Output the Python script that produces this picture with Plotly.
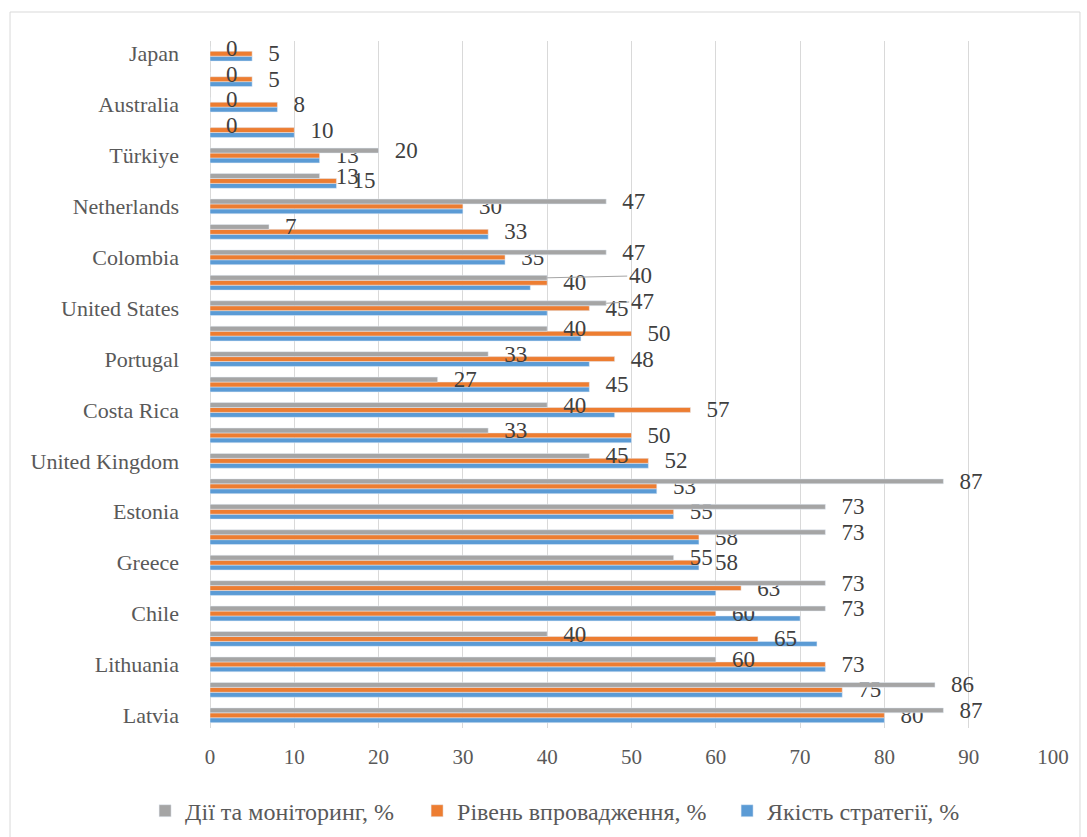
import plotly.graph_objects as go

# Categories from bottom (index 0) to top; "" = unlabeled tick in the original
countries = ["Latvia", "", "Lithuania", "", "Chile", "", "Greece", "", "Estonia", "",
             "United Kingdom", "", "Costa Rica", "", "Portugal", "", "United States", "",
             "Colombia", "", "Netherlands", "", "Türkiye", "", "Australia", "", "Japan"]

actions = [87, 86, 60, 40, 73, 73, 55, 73, 73, 87, 45, 33, 40, 27, 33, 40, 47, 40,
           47, 7, 47, 13, 20, 0, 0, 0, 0]
implementation = [80, 75, 73, 65, 60, 63, 58, 58, 55, 53, 52, 50, 57, 45, 48, 50, 45, 40,
                  35, 33, 30, 15, 13, 10, 8, 5, 5]
quality = [80, 75, 73, 72, 70, 60, 58, 58, 55, 53, 52, 50, 48, 45, 45, 44, 40, 38,
           35, 33, 30, 15, 13, 10, 8, 5, 5]

series_names = ["Дії та моніторинг, %", "Рівень впровадження, %", "Якість стратегії, %"]
x_ticks = [0, 10, 20, 30, 40, 50, 60, 70, 80, 90, 100]

# labels of the grey series that were dragged out with a leader line in the original
leader_points = {17: (93, -2), 16: (36, -2)}

positions = list(range(len(countries)))
tickvals = [i for i, c in enumerate(countries) if c]
ticktext = [c for c in countries if c]

FONT = "Liberation Serif, Times New Roman, serif"
label_font = dict(family=FONT, size=23, color="#404040")
GAP = "\u00a0\u00a0\u2009"
BARGAP = 0.42

grey_text = ["" if i in leader_points else str(v) for i, v in enumerate(actions)]

fig = go.Figure()
fig.add_trace(go.Bar(y=positions, x=quality, orientation="h", name=series_names[2],
                     marker=dict(color="#5B9BD5"), cliponaxis=False, legendwidth=200))
fig.add_trace(go.Bar(y=positions, x=implementation, orientation="h", name=series_names[1],
                     marker=dict(color="#ED7D31"), texttemplate=GAP + "%{x}",
                     textposition="outside", textfont=label_font, constraintext="none",
                     cliponaxis=False, legendwidth=265))
fig.add_trace(go.Bar(y=positions, x=actions, orientation="h", name=series_names[0],
                     marker=dict(color="#A5A5A5"), text=grey_text,
                     texttemplate=GAP + "%{text}",
                     textposition="outside", textfont=label_font, constraintext="none",
                     cliponaxis=False, legendwidth=227))

# grey bar sits in the top slot of each group
grey_offset = (1 - BARGAP) / 3
annotations = []
for i, (ax, ay) in leader_points.items():
    annotations.append(dict(x=actions[i], y=i + grey_offset, xref="x", yref="y",
                            text=str(actions[i]), showarrow=True, arrowhead=0,
                            arrowwidth=1, arrowcolor="#A5A5A5", ax=ax, ay=ay,
                            standoff=0, font=label_font))

fig.update_layout(
    width=1087, height=837,
    margin=dict(l=210, r=34, t=41, b=109, autoexpand=False),
    paper_bgcolor="white", plot_bgcolor="white",
    barmode="group", bargap=BARGAP, bargroupgap=0,
    font=dict(family=FONT, color="#595959"),
    showlegend=True,
    legend=dict(orientation="h", traceorder="reversed", x=-0.077, xanchor="left",
                y=-0.121, yanchor="middle", font=dict(family=FONT, size=24, color="#595959"),
                bgcolor="rgba(0,0,0,0)"),
    xaxis=dict(range=[0, 100], tickvals=x_ticks, showgrid=True, gridcolor="#D9D9D9",
               gridwidth=1, zeroline=True, zerolinecolor="#D9D9D9", zerolinewidth=1,
               showline=False, ticks="", ticklabelstandoff=14, automargin=False,
               tickfont=dict(family=FONT, size=21, color="#595959")),
    yaxis=dict(range=[-0.5, len(countries) - 0.5], tickvals=tickvals, ticktext=ticktext,
               showgrid=False, zeroline=False, showline=False, ticks="",
               ticklabelstandoff=30, automargin=False,
               tickfont=dict(family=FONT, size=22, color="#595959")),
    annotations=annotations,
    shapes=[dict(type="rect", xref="paper", yref="paper", x0=-0.2372, x1=1.032,
                 y0=-0.17, y1=1.0422, line=dict(color="#D9D9D9", width=1),
                 fillcolor="rgba(0,0,0,0)", layer="below")],
)

fig.write_html("out.html")
